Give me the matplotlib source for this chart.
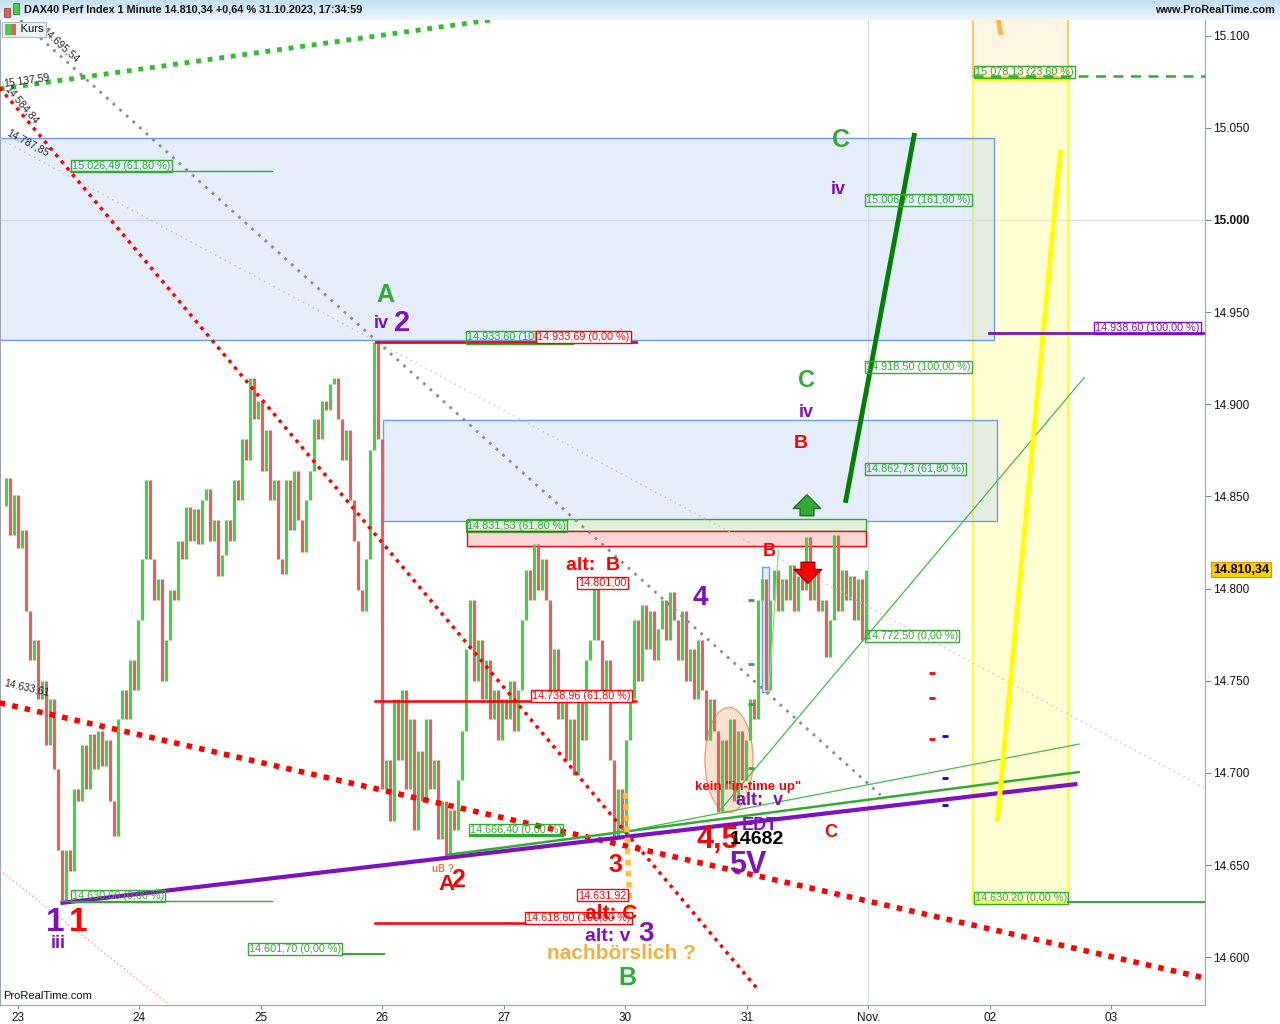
import numpy as np
import matplotlib.pyplot as plt
from matplotlib.patches import Rectangle, Ellipse
from matplotlib.colors import LinearSegmentedColormap

plt.rcParams['font.family'] = ['Liberation Sans', 'DejaVu Sans']

# x axis = trading-day position, 0 = tick "23"
day_ticks = list(range(10))
day_labels = ["23", "24", "25", "26", "27", "30", "31", "Nov.", "02", "03"]
price_ticks = [14600, 14650, 14700, 14750, 14800, 14850, 14900, 14950, 15000, 15050, 15100]
price_labels = ["14.600", "14.650", "14.700", "14.750", "14.800", "14.850",
                "14.900", "14.950", "15.000", "15.050", "15.100"]

# DAX40 1 minute (one value every ~2 minutes of screen)
T_FIRST, T_LAST = -0.13, 6.98
kurs = [
    14845, 14860, 14829, 14851, 14822, 14832, 14788, 14761, 14772, 14740,
    14750, 14715, 14740, 14702, 14658, 14631, 14658, 14647, 14691, 14685,
    14715, 14691, 14721, 14702, 14723, 14704, 14718, 14685, 14666, 14729,
    14745, 14729, 14761, 14745, 14783, 14816, 14859, 14816, 14794, 14805,
    14750, 14772, 14799, 14794, 14826, 14816, 14844, 14826, 14843, 14824,
    14848, 14854, 14826, 14837, 14807, 14818, 14837, 14826, 14859, 14848,
    14881, 14870, 14914, 14892, 14902, 14864, 14886, 14848, 14859, 14816,
    14808, 14859, 14832, 14864, 14837, 14820, 14848, 14864, 14892, 14881,
    14902, 14897, 14911, 14914, 14892, 14870, 14886, 14848, 14826, 14799,
    14788, 14816, 14875, 14933.7, 14881, 14691, 14707, 14674, 14740, 14707,
    14745, 14691, 14729, 14669, 14712, 14685, 14729, 14691, 14707, 14664,
    14685, 14654, 14680, 14669, 14696, 14723, 14767, 14794, 14750, 14772,
    14740, 14761, 14729, 14745, 14718, 14740, 14729, 14750, 14723, 14745,
    14783, 14810, 14794, 14824, 14799, 14816, 14794, 14745, 14767, 14729,
    14740, 14707, 14729, 14699, 14740, 14718, 14761, 14772, 14800, 14772,
    14740, 14761, 14707, 14666, 14691, 14669, 14718, 14740, 14783, 14750,
    14791, 14767, 14788, 14761, 14778, 14794, 14772, 14798, 14783, 14761,
    14788, 14750, 14767, 14740, 14772, 14745, 14718, 14740, 14723, 14679,
    14718, 14691, 14729, 14685, 14723, 14696, 14718, 14740, 14729, 14794,
    14805, 14745, 14794, 14810, 14788, 14805, 14794, 14813, 14788, 14807,
    14799, 14828, 14794, 14810, 14788, 14794, 14763, 14783, 14829, 14788,
    14810, 14794, 14807, 14783, 14805, 14772, 14810.34,
]
LAST = 14810.34

# trend lines: (t0, p0, t1, p1, color, lw, linestyle)
trend_lines = [
    (-0.15, 15071.1, 3.89, 15108.5, '#33bb33', 3.5, (0, (1, 1.4))),
    (0.02, 15108.5, 7.10, 14688.0, '#8c8c8c', 2.0, (0, (1, 2.2))),
    (-0.15, 15044.0, 9.77, 14691.8, '#c0c0c0', 1.0, (0, (1, 3))),
    (-0.15, 15071.7, 6.08, 14583.3, '#ff0000', 2.5, (0, (1, 1.5))),
    (-0.15, 14738.0, 9.77, 14588.7, '#ff0000', 4.0, (0, (1, 1.3))),
    (-0.15, 14647.3, 1.25, 14574.1, '#ff9a9a', 1.0, (0, (1, 2))),
    (0.35, 14629.4, 8.72, 14694.0, '#7d10c0', 3.0, '-'),
    (3.53, 14655.5, 8.74, 14700.5, '#33aa33', 1.8, '-'),
    (4.90, 14667.0, 8.74, 14715.7, '#44bb44', 0.9, '-'),
    (5.78, 14679.8, 8.78, 14914.8, '#44bb44', 0.9, '-'),
    (6.18, 14743.9, 6.26, 14821.0, '#88dd88', 0.9, '-'),
    (6.81, 14846.5, 7.38, 15047.2, '#008000', 3.5, '-'),
    (8.06, 14673.4, 8.58, 15038.0, '#ffff00', 3.5, '-'),
    (8.07, 15108.5, 8.09, 15100.4, '#ffb84d', 3.5, '-'),
    (5.00, 14689.0, 5.04, 14620.0, '#ffc040', 4.0, (0, (1, 1))),
]

# horizontal levels: (t0, t1, price, color, lw, ls)
levels = [
    (2.947, 5.086, 14933.69, '#ff0000', 2.0, '-'),
    (2.938, 5.086, 14738.96, '#ff0000', 1.8, '-'),
    (2.938, 5.037, 14618.60, '#ff0000', 1.8, '-'),
    (0.428, 2.091, 15026.49, '#33aa33', 1.0, '-'),
    (0.346, 2.091, 14630.60, '#33aa33', 1.0, '-'),
    (1.901, 3.012, 14601.70, '#33aa33', 1.5, '-'),
    (3.720, 4.502, 14666.40, '#33aa33', 1.5, '-'),
    (7.860, 9.770, 15078.13, '#33aa33', 1.8, (0, (4, 3))),
    (8.642, 9.770, 14630.20, '#33aa33', 1.5, '-'),
    (7.992, 9.770, 14938.60, '#7d10c0', 2.0, '-'),
]

# value boxes: (t, price, text, color, face)
value_boxes = [
    (0.444, 15026.49, "15.026,49 (61,80 %)", '#33aa33', 'none'),
    (0.444, 14630.60, "14.630,60 (0,00 %)", '#33aa33', 'none'),
    (1.901, 14601.70, "14.601,70 (0,00 %)", '#33aa33', 'white'),
    (3.695, 14933.60, "14.933,60 (100,00 %)", '#33aa33', 'none'),
    (4.272, 14933.69, "14.933,69 (0,00 %)", '#ff0000', 'white'),
    (3.695, 14831.30, "14.831,53 (61,80 %)", '#33aa33', 'none'),
    (4.609, 14800.40, "14.801,00", '#ff0000', 'white'),
    (4.230, 14738.96, "14.738,96 (61,80 %)", '#ff0000', 'white'),
    (3.720, 14666.40, "14.666,40 (0,00 %)", '#33aa33', 'none'),
    (4.609, 14631.00, "14.631,92", '#ff0000', 'white'),
    (4.181, 14618.60, "14.618,60 (100,00 %)", '#ff0000', 'white'),
    (6.979, 15008.20, "15.006,73 (161,80 %)", '#33aa33', 'none'),
    (6.979, 14917.60, "14.918,50 (100,00 %)", '#33aa33', 'none'),
    (6.979, 14862.20, "14.862,73 (61,80 %)", '#33aa33', 'none'),
    (6.979, 14771.60, "14.772,50 (0,00 %)", '#33aa33', 'none'),
    (7.877, 15077.60, "15.078,13 (23,60 %)", '#33aa33', 'none'),
    (7.877, 14629.40, "14.630,20 (0,00 %)", '#33aa33', 'none'),
    (8.864, 14938.60, "14.938,60 (100,00 %)", '#7d10c0', 'none'),
]

# line tags along the trend lines: (t, price, text, rotation)
line_tags = [
    (0.346, 15095.0, "14.695,54", -42),
    (0.070, 15075.5, "15.137,59", 8),
    (0.033, 15062.4, "14.584,84", -50),
    (0.082, 15042.0, "14.787,85", -28),
    (0.074, 14746.0, "14.633,61", -13),
]

# wave count labels: (t, price, text, color, size)
GREEN, PURPLE, RED, ORANGE = '#33aa33', '#7d10c0', '#ff0000', '#f0b03c'
waves = [
    (3.021, 14959.3, "A", GREEN, 18), (2.988, 14943.6, "iv", PURPLE, 13),
    (3.160, 14944.1, "2", PURPLE, 21),
    (6.774, 15043.4, "C", GREEN, 18), (6.749, 15016.3, "iv", PURPLE, 13),
    (6.494, 14912.7, "C", GREEN, 17), (6.486, 14895.8, "iv", PURPLE, 13),
    (6.444, 14878.5, "B", RED, 14), (6.181, 14819.9, "B", RED, 13),
    (4.733, 14812.3, "alt:  B", RED, 14), (5.613, 14794.9, "4", PURPLE, 20),
    (6.008, 14692.4, "kein \"in-time up\"", RED, 9.5),
    (6.107, 14684.8, "alt:  v", PURPLE, 13), (6.107, 14671.2, "EDT", PURPLE, 13),
    (5.761, 14663.6, "4,5", RED, 22), (6.082, 14663.6, "14682", 'black', 14),
    (6.008, 14650.0, "5V", PURPLE, 22), (6.691, 14667.4, "C", RED, 13),
    (4.914, 14650.0, "3", RED, 18), (3.498, 14647.9, "uB ?", '#f07840', 7),
    (3.523, 14639.2, "A", RED, 16), (3.621, 14641.9, "2", RED, 18),
    (4.881, 14623.5, "alt: C", RED, 15), (4.856, 14611.0, "alt: v", PURPLE, 14),
    (5.169, 14612.6, "3", PURPLE, 20), (4.971, 14601.8, "nachbörslich ?", ORANGE, 15),
    (5.012, 14588.7, "B", GREEN, 18),
    (0.305, 14619.1, "1", PURPLE, 24), (0.494, 14619.1, "1", RED, 24),
    (0.329, 14607.7, "iii", PURPLE, 13),
]

# small tick dashes: (t, price, color)
dashes = [
    (7.523, 14754.2, RED), (7.523, 14740.6, RED), (7.523, 14718.4, RED),
    (7.630, 14720.0, 'blue'), (7.630, 14697.3, 'blue'), (7.630, 14682.6, 'blue'),
    (6.033, 14793.8, GREEN), (6.033, 14759.1, GREEN), (6.033, 14737.4, GREEN),
    (6.033, 14702.7, GREEN),
]

fig = plt.figure(figsize=(12.8, 10.24), dpi=100)
ax = fig.add_axes([0.0, 0.0186, 0.9414, 0.9619])
XMIN, XMAX, YMIN, YMAX = -0.148, 9.77, 14574.1, 15108.5
ax.set_xlim(XMIN, XMAX)
ax.set_ylim(YMIN, YMAX)

# grid
ax.axhline(15000, color='#dcdfe6', lw=1, zorder=0)
ax.axvline(7, color='#dcdfe6', lw=1, zorder=0)

# zones
ax.add_patch(Rectangle((XMIN - 0.1, 14934.9), 8.033 - XMIN + 0.1, 15044.5 - 14934.9,
                       fc=(0.78, 0.84, 0.96, 0.45), ec='#6f9bef', lw=1, zorder=0.5))
ax.add_patch(Rectangle((3.004, 14836.7), 8.058 - 3.004, 14891.5 - 14836.7,
                       fc=(0.78, 0.84, 0.96, 0.45), ec='#6f9bef', lw=1, zorder=0.5))
ax.add_patch(Rectangle((7.860, 14629.4), 8.642 - 7.860, 15076.0 - 14629.4,
                       fc=(1.0, 1.0, 0.62, 0.45), ec='#ffff00', lw=1.2, zorder=0.4))
ax.add_patch(Rectangle((7.860, 15077.6), 8.642 - 7.860, 40,
                       fc='#fff3e1', ec='#ffc040', lw=1.2, zorder=0.4))
ax.add_patch(Rectangle((3.695, 14831.3), 6.979 - 3.695, 14837.8 - 14831.3,
                       fc='#dff0dc', ec='#33aa33', lw=1, zorder=0.6))
ax.add_patch(Rectangle((3.695, 14823.1), 6.979 - 3.695, 14831.3 - 14823.1,
                       fc='#fcd6d6', ec='#ff0000', lw=1, zorder=0.6))
ax.add_patch(Rectangle((6.123, 14743.9), 0.058, 14811.7 - 14743.9,
                       fc='#e4ecfb', ec='#6f9bef', lw=1, zorder=1.5))
ax.add_patch(Ellipse((5.852, 14707.0), 0.395, 57.0,
                     fc=(0.96, 0.75, 0.62, 0.45), ec='#f0a070', lw=1, zorder=1.4))

# candles
t = np.linspace(T_FIRST, T_LAST, len(kurs))
k = np.array(kurs, dtype=float)
lo = np.minimum(k[:-1], k[1:])
hi = np.maximum(k[:-1], k[1:])
cols = np.where(k[1:] >= k[:-1], '#4ccc4c', '#dc6464')
ax.vlines(t[1:], lo, hi, colors=cols, lw=2.3, zorder=2)

for t0, p0, t1, p1, c, lw, ls in trend_lines:
    ax.plot([t0, t1], [p0, p1], color=c, lw=lw, linestyle=ls,
            dash_capstyle='butt', solid_capstyle='butt', zorder=3)

for t0, t1, p, c, lw, ls in levels:
    ax.plot([t0, t1], [p, p], color=c, lw=lw, linestyle=ls, zorder=3)

for tx, p, txt, c, face in value_boxes:
    ax.text(tx, p, txt, color=c, fontsize=7.8, ha='left', va='bottom', zorder=5,
            bbox=dict(boxstyle='square,pad=0.12', fc=face, ec=c, lw=1))

for tx, p, txt, rot in line_tags:
    ax.text(tx, p, txt, color='#222222', fontsize=7.5, ha='center', va='center',
            rotation=rot, zorder=5)

for tx, p, txt, c, s in waves:
    ax.text(tx, p, txt, color=c, fontsize=s, fontweight='bold', ha='center',
            va='center', zorder=6)

for tx, p, c in dashes:
    ax.plot(tx, p, marker='_', color=c, markersize=5, mew=2, zorder=4)

# arrows
ax.annotate('', xy=(6.494, 14852.4), xytext=(6.494, 14838.0), zorder=6,
            arrowprops=dict(arrowstyle='simple,head_length=0.55,head_width=1.1,tail_width=0.55',
                            fc='#33aa33', ec='#1f6f1f', mutation_scale=18))
ax.annotate('', xy=(6.502, 14801.4), xytext=(6.502, 14815.8), zorder=6,
            arrowprops=dict(arrowstyle='simple,head_length=0.55,head_width=1.1,tail_width=0.55',
                            fc='#ff0000', ec='#a00000', mutation_scale=18))

# axes styling
ax.set_xticks(day_ticks)
ax.set_xticklabels(day_labels)
ax.yaxis.tick_right()
ax.set_yticks(price_ticks)
ax.set_yticklabels(price_labels)
for lbl in ax.get_yticklabels():
    if lbl.get_text() == "15.000":
        lbl.set_fontweight('bold')
ax.tick_params(axis='y', direction='out', length=4, pad=2, labelsize=8.5,
               color='#808890', labelcolor='#111111')
ax.tick_params(axis='x', direction='out', length=3, pad=2, labelsize=8.5,
               color='#808890', labelcolor='#111111')
for side in ('left', 'right', 'bottom'):
    ax.spines[side].set_color('#9aa4ae')
ax.spines['top'].set_visible(False)

# last price tag
ax.annotate("14.810,34", xy=(1.0, LAST), xycoords=('axes fraction', 'data'),
            xytext=(6, 0), textcoords='offset points', ha='left', va='center',
            fontsize=9, fontweight='bold', color='black', annotation_clip=False,
            bbox=dict(boxstyle='square,pad=0.15', fc='#ffcc00', ec='#d4a000', lw=0.8))

# legend chip "Kurs"
ax.text(0.004, 0.9905, "     Kurs", transform=ax.transAxes, fontsize=8, va='center',
        ha='left', zorder=7,
        bbox=dict(boxstyle='square,pad=0.25', fc='#eef1f4', ec='#b0b8c0', lw=0.8))
ax.add_patch(Rectangle((0.0045, 0.9845), 0.0045, 0.011, transform=ax.transAxes,
                       fc='#4ccc4c', ec='none', zorder=8))
ax.add_patch(Rectangle((0.009, 0.9845), 0.0045, 0.011, transform=ax.transAxes,
                       fc='#dc6464', ec='none', zorder=8))
ax.text(0.0025, 0.004, "ProRealTime.com", transform=ax.transAxes, fontsize=8,
        ha='left', va='bottom', color='#111111', zorder=7)

# header bar
hb = fig.add_axes([0.0, 0.9805, 1.0, 0.0195])
grad = np.linspace(0, 1, 50).reshape(-1, 1)
hb.imshow(grad, aspect='auto', extent=[0, 1, 0, 1],
          cmap=LinearSegmentedColormap.from_list('hdr', ['#c4dff0', '#ecf7fd']))
hb.set_xlim(0, 1)
hb.set_ylim(0, 1)
hb.axis('off')
hb.add_patch(Rectangle((0.003, 0.15), 0.005, 0.45, fc='#e06060', ec='#803030', lw=0.5))
hb.add_patch(Rectangle((0.010, 0.30), 0.005, 0.55, fc='#4ccc4c', ec='#306030', lw=0.5))
hb.text(0.019, 0.5, "DAX40 Perf Index 1 Minute 14.810,34 +0,64 % 31.10.2023, 17:34:59",
        fontsize=7.8, fontweight='bold', va='center', ha='left', color='#111111')
hb.text(0.996, 0.5, "www.ProRealTime.com", fontsize=7.8, fontweight='bold',
        va='center', ha='right', color='#111111')

fig.savefig("out.png", dpi=100)
